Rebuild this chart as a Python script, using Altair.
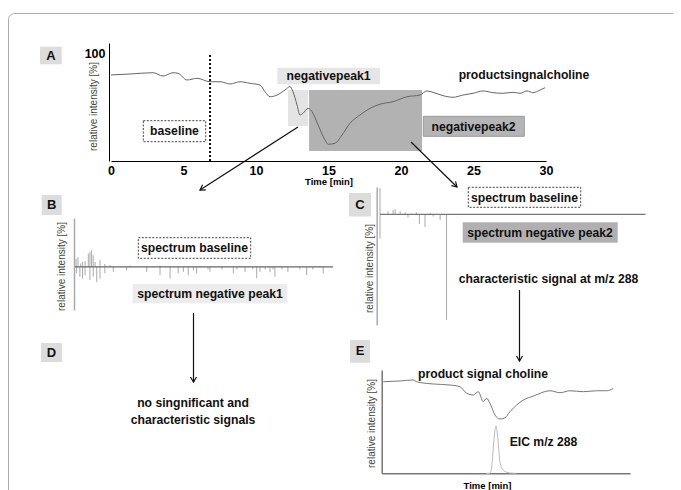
import altair as alt
import pandas as pd

FONT = "Liberation Sans"
W, H = 665, 482

# ---------------- Panel A: chromatogram ----------------
A_time = [0.0, 1.31, 2.90, 3.59, 4.28, 4.62, 5.24, 5.93, 6.83, 7.52, 8.21, 8.90, 9.59, 10.28,
          10.62, 10.97, 11.45, 12.00, 12.34, 12.55, 12.83, 13.03, 13.24, 13.59, 13.93, 14.28,
          14.76, 14.97, 15.45, 15.93, 16.48, 17.17, 17.86, 18.55, 19.45, 20.41, 21.31, 21.79,
          22.21, 22.90, 23.59, 24.28, 24.97, 25.66, 26.34, 27.03, 27.72, 28.21, 28.69, 29.10,
          29.59, 29.93]
A_int = [80.2, 81.1, 82.3, 79.2, 82.3, 81.8, 75.5, 77.1, 73.9, 73.9, 71.8, 73.9, 72.4, 70.8,
         64.6, 59.9, 61.5, 66.2, 69.3, 64.6, 52.2, 42.9, 44.5, 49.1, 44.5, 33.6,
         19.6, 15.6, 16.5, 24.2, 35.1, 42.9, 49.1, 52.9, 55.3, 59.9, 61.5, 65.3,
         64.0, 60.9, 59.4, 61.5, 63.1, 65.3, 63.7, 63.1, 64.0, 63.1, 65.3, 63.7,
         66.2, 68.3]
A_ticks = [0, 5, 10, 15, 20, 25, 30]
peak1_t = [12.2, 13.6]
peak1_i = [32.6, 66.2]
peak2_t = [13.66, 21.45]
peak2_i = [9.3, 66.2]
baseline_marker_t = 6.83
baseline_marker_top = 98.8

# ---------------- Panel B: spectrum baseline (up) / negative peak1 (down) ----------------
B_mz = [54, 61, 71, 78, 87, 99, 105, 111, 117, 124, 142, 160, 179, 253, 363, 510, 658, 805, 952,
        56, 68, 78, 87, 105, 117, 130, 142, 160, 191, 240, 314, 363, 400, 430, 449, 467, 486,
        498, 540, 547, 591, 633, 646, 676, 705, 719, 731, 750, 768, 779, 786, 812, 834, 878,
        903, 926, 964]
B_int = [17, 20, 7, 10, 12, 27, 31, 34, 24, 10, 14, 6, 4, 3, 3, 2, 2, 2, 2,
         -13, -20, -24, -17, -27, -20, -31, -24, -13, -10, -7, -10, -17, -24, -13, -10, -17, -7,
         -13, -5, -10, -5, -13, -5, -10, -5, -23, -10, -5, -11, -5, -20, -5, -10, -5,
         -17, -5, -13]

# ---------------- Panel C: spectrum baseline (up) / negative peak2 (down) ----------------
C_mz = [50, 79, 97, 104, 122, 140, 180, 230, 50, 150, 191, 211, 240, 265, 288]
C_int = [25, 3, 4, 5, 3, 2, 2, 1.5, -23, -3, -9, -12, -2, -5.5, -100]

# ---------------- Panel E: product signal choline + EIC m/z 288 ----------------
E_time = [0.19, 2.21, 3.82, 4.23, 6.23, 8.25, 9.46, 10.27, 11.07, 11.67, 12.27, 12.68, 13.08,
          13.69, 14.29, 14.89, 15.49, 16.30, 17.11, 18.31, 20.33, 21.54, 22.75, 24.36, 25.97,
          27.18, 27.98]
E_int = [97.5, 98.3, 99.4, 97.5, 95.1, 94.0, 92.2, 85.2, 83.4, 86.9, 76.3, 79.8, 74.5,
         62.0, 57.8, 59.1, 65.5, 72.7, 78.0, 82.2, 87.9, 85.8, 87.9, 86.9, 87.9,
         87.9, 90.4]
EIC_time = [12.6, 13.08, 13.32, 13.56, 13.81, 14.05, 14.29, 14.65, 15.5, 16.2]
EIC_int = [0, 0, 8.8, 35.5, 50.4, 35.5, 12.0, 3.5, 0.3, 0]

# ---------------- layout (view pixels) ----------------
txt_x = [320.5, 516, 465.5, 166.5, 186.5, 202, 516.5, 532, 540.5, 185, 185, 475, 535.5]
txt_y = [68, 67, 118.5, 123, 240, 285.7, 189.5, 224.5, 271, 395, 412, 366.3, 433.7]
txt_s = ["negativepeak1", "productsingnalcholine", "negativepeak2", "baseline",
         "spectrum baseline", "spectrum negative peak1", "spectrum baseline",
         "spectrum negative peak2", "characteristic signal at m/z 288",
         "no singnificant and", "characteristic signals", "product signal choline",
         "EIC m/z 288"]

letters = ["A", "B", "C", "D", "E"]
let_x0 = [32, 33.7, 341, 33, 342]
let_x1 = [53.7, 53.7, 363, 54, 362]
let_y0 = [38.7, 187, 185, 335, 332]
let_y1 = [56.3, 207, 208.5, 354, 354.7]

arr_x0 = [290, 403, 185.5, 511.5]
arr_y0 = [119, 134, 305, 282]
arr_x1 = [192, 449, 185.5, 511.5]
arr_y1 = [182, 179, 374, 353]
arr_ang = [57.3, 314.4, 0, 0]

# ---------- Panel A group ----------
xsA = alt.Scale(domain=[0, 30], range=[103, 538], nice=False, zero=False)
ysA = alt.Scale(domain=[0, 110], range=[153, 35], nice=False, zero=False)
axAx = alt.Axis(orient="bottom", offset=153 - H, values=A_ticks, format="d", ticks=False,
                grid=False, domainColor="#000", domainWidth=1, labelFont=FONT,
                labelFontSize=12.5, labelFontWeight="bold", labelColor="#000", labelPadding=3,
                labelFlush=False, labelOverlap=False,
                title="Time [min]", titleFont=FONT, titleFontSize=9.5, titleFontWeight="bold",
                titleColor="#000", titleBaseline="middle", titleY=20.5)
axAy = alt.Axis(orient="left", offset=-101, values=[100], ticks=False, grid=False,
                domainColor="#000", domainWidth=1, labelFont=FONT, labelFontSize=12.5,
                labelFontWeight="bold", labelColor="#000", labelPadding=4,
                title="relative intensity [%]", titleFont=FONT, titleFontSize=10,
                titleFontWeight="normal", titleColor="#444", titleAngle=270, titleAlign="center",
                titleBaseline="middle", titleX=-15.7, titleY=98)

dfA = pd.DataFrame({"t": A_time, "I": A_int})
pk1 = alt.Chart(pd.DataFrame({"t": [peak1_t[0]], "t2": [peak1_t[1]], "I": [peak1_i[0]], "I2": [peak1_i[1]]})).mark_rect(color="#e4e4e4").encode(
    x=alt.X("t:Q", scale=xsA, axis=axAx), x2="t2:Q",
    y=alt.Y("I:Q", scale=ysA, axis=axAy), y2="I2:Q")
pk2 = alt.Chart(pd.DataFrame({"t": [peak2_t[0]], "t2": [peak2_t[1]], "I": [peak2_i[0]], "I2": [peak2_i[1]]})).mark_rect(color="#b2b2b2").encode(
    x=alt.X("t:Q", scale=xsA, axis=axAx), x2="t2:Q",
    y=alt.Y("I:Q", scale=ysA, axis=axAy), y2="I2:Q")
dotted = alt.Chart(pd.DataFrame({"t": [baseline_marker_t], "I": [0], "I2": [baseline_marker_top]})).mark_rule(
    color="#111", strokeWidth=2, strokeDash=[2, 2]).encode(
    x=alt.X("t:Q", scale=xsA, axis=axAx),
    y=alt.Y("I:Q", scale=ysA, axis=axAy), y2="I2:Q")
lineA = alt.Chart(dfA).mark_line(color="#666", strokeWidth=1, interpolate="monotone").encode(
    x=alt.X("t:Q", scale=xsA, axis=axAx),
    y=alt.Y("I:Q", scale=ysA, axis=axAy))
groupA = alt.layer(pk1, pk2, dotted, lineA)

# ---------- Panel B group ----------
xsB = alt.Scale(domain=[50, 1000], range=[67, 325], nice=False, zero=False)
ysB = alt.Scale(domain=[-88, 100], range=[302, 210], nice=False, zero=False)
axBy = alt.Axis(orient="left", offset=-66, ticks=False, labels=False, grid=False,
                domainColor="#aaa", domainWidth=1.5, title="relative intensity [%]",
                titleFont=FONT, titleFontSize=10, titleFontWeight="normal", titleColor="#444",
                titleAngle=270, titleAlign="center", titleBaseline="middle",
                titleX=-12.3, titleY=258)
dfB = pd.DataFrame({"mz": B_mz, "v": B_int, "z": [0] * len(B_mz)})
spB = alt.Chart(dfB).mark_rule(color="#aaa", strokeWidth=1).encode(
    x=alt.X("mz:Q", scale=xsB, axis=None),
    y=alt.Y("v:Q", scale=ysB, axis=axBy), y2="z:Q")
baseB = alt.Chart(pd.DataFrame({"mz": [50], "mz2": [1000], "v": [0]})).mark_rule(
    color="#666", strokeWidth=1.3).encode(
    x=alt.X("mz:Q", scale=xsB, axis=None), x2="mz2:Q",
    y=alt.Y("v:Q", scale=ysB, axis=axBy))
groupB = alt.layer(spB, baseB)

# ---------- Panel C group ----------
xsC = alt.Scale(domain=[50, 1000], range=[372, 637.6], nice=False, zero=False)
ysC = alt.Scale(domain=[-105, 26], range=[317, 179], nice=False, zero=False)
axCy = alt.Axis(orient="left", offset=-368.7, ticks=False, labels=False, grid=False,
                domainColor="#aaa", domainWidth=1.5, title="relative intensity [%]",
                titleFont=FONT, titleFontSize=10, titleFontWeight="normal", titleColor="#444",
                titleAngle=270, titleAlign="center", titleBaseline="middle",
                titleX=-7, titleY=260)
dfC = pd.DataFrame({"mz": C_mz, "v": C_int, "z": [0] * len(C_mz)})
spC = alt.Chart(dfC).mark_rule(color="#aaa", strokeWidth=1).encode(
    x=alt.X("mz:Q", scale=xsC, axis=None),
    y=alt.Y("v:Q", scale=ysC, axis=axCy), y2="z:Q")
baseC = alt.Chart(pd.DataFrame({"mz": [50], "mz2": [1000], "v": [0]})).mark_rule(
    color="#777", strokeWidth=1.3).encode(
    x=alt.X("mz:Q", scale=xsC, axis=None), x2="mz2:Q",
    y=alt.Y("v:Q", scale=ysC, axis=axCy))
groupC = alt.layer(spC, baseC)

# ---------- Panel E group ----------
xsE = alt.Scale(domain=[0, 30], range=[373.7, 622], nice=False, zero=False)
ysE = alt.Scale(domain=[0, 110], range=[465.3, 362], nice=False, zero=False)
axEx = alt.Axis(orient="bottom", offset=465.3 - H, ticks=False, labels=False, grid=False,
                domainColor="#777", domainWidth=1.5, title="Time [min]", titleFont=FONT,
                titleFontSize=9.5, titleFontWeight="bold", titleColor="#000",
                titleBaseline="middle", titleX=479, titleY=12.4)
axEy = alt.Axis(orient="left", offset=-373.7, ticks=False, labels=False, grid=False,
                domainColor="#777", domainWidth=1.5, title="relative intensity [%]",
                titleFont=FONT, titleFontSize=10, titleFontWeight="normal", titleColor="#444",
                titleAngle=270, titleAlign="center", titleBaseline="middle",
                titleX=-10, titleY=415)
lineE = alt.Chart(pd.DataFrame({"t": E_time, "I": E_int})).mark_line(
    color="#777", strokeWidth=1, interpolate="monotone").encode(
    x=alt.X("t:Q", scale=xsE, axis=axEx), y=alt.Y("I:Q", scale=ysE, axis=axEy))
eic = alt.Chart(pd.DataFrame({"t": EIC_time, "I": EIC_int})).mark_line(
    color="#bbb", strokeWidth=1, interpolate="monotone").encode(
    x=alt.X("t:Q", scale=xsE, axis=axEx), y=alt.Y("I:Q", scale=ysE, axis=axEy))
groupE = alt.layer(eic, lineE)

# ---------- annotations ----------
one = pd.DataFrame({"k": [0]})
border = alt.Chart(one).mark_rect(fillOpacity=0, stroke="#aaa", strokeWidth=1, cornerRadius=6).encode(
    x=alt.value(0.5), x2=alt.value(720), y=alt.value(5.5), y2=alt.value(560))


def box(x0, y0, x1, y1, **style):
    return alt.Chart(pd.DataFrame({"x0": [x0], "y0": [y0], "x1": [x1], "y1": [y1]})).mark_rect(**style).encode(
        x=alt.X("x0:Q", scale=None, axis=None), x2="x1:Q",
        y=alt.Y("y0:Q", scale=None, axis=None), y2="y1:Q")


dash = dict(fill="white", stroke="#444", strokeWidth=1, strokeDash=[2, 1.5])
boxes = [
    box(269.3, 59.7, 372, 76.3, fill="#e6e6e6"),
    box(415.3, 108.3, 516.3, 128.3, fill="#b5b5b5", stroke="#9a9a9a", strokeWidth=1),
    box(135.3, 112.7, 197.7, 133.7, **dash),
    box(130.3, 229.7, 242.7, 250.3, **dash),
    box(124.7, 276, 279.3, 295.3, fill="#ececec"),
    box(460.3, 179.3, 572.7, 199.3, **dash),
    box(454.7, 214.3, 609.7, 234.7, fill="#b0b0b0"),
]

letdf = pd.DataFrame({"x0": let_x0, "x1": let_x1, "y0": let_y0, "y1": let_y1, "s": letters})
letdf["cx"] = (letdf.x0 + letdf.x1) / 2
letdf["cy"] = (letdf.y0 + letdf.y1) / 2
letbox = alt.Chart(letdf).mark_rect(fill="#dcdcdc").encode(
    x=alt.X("x0:Q", scale=None, axis=None), x2="x1:Q",
    y=alt.Y("y0:Q", scale=None, axis=None), y2="y1:Q")
lettxt = alt.Chart(letdf).mark_text(font=FONT, fontSize=13, fontWeight="bold", color="#111",
                                    align="center", baseline="middle").encode(
    x=alt.X("cx:Q", scale=None, axis=None), y=alt.Y("cy:Q", scale=None, axis=None), text="s:N")

arrdf = pd.DataFrame({"x0": arr_x0, "y0": arr_y0, "x1": arr_x1, "y1": arr_y1, "a": arr_ang})
arrows = alt.Chart(arrdf).mark_rule(color="#111", strokeWidth=1.2).encode(
    x=alt.X("x0:Q", scale=None, axis=None), x2="x1:Q",
    y=alt.Y("y0:Q", scale=None, axis=None), y2="y1:Q")
heads = alt.Chart(arrdf).mark_point(shape="M -0.6 -1 L 0 0 L 0.6 -1", filled=False, stroke="#111",
                                    strokeWidth=1.2, size=100, opacity=1).encode(
    x=alt.X("x1:Q", scale=None, axis=None), y=alt.Y("y1:Q", scale=None, axis=None),
    angle=alt.Angle("a:Q", scale=None))

txtdf = pd.DataFrame({"x": txt_x, "y": txt_y, "s": txt_s})
texts = alt.Chart(txtdf).mark_text(font=FONT, fontSize=12.2, fontWeight="bold", color="#111",
                                   align="center", baseline="middle").encode(
    x=alt.X("x:Q", scale=None, axis=None), y=alt.Y("y:Q", scale=None, axis=None), text="s:N")

chart = alt.layer(
    border, groupA, groupB, groupC, groupE, *boxes, letbox, lettxt, arrows, heads, texts
).resolve_scale(x="independent", y="independent").properties(
    width=W, height=H, padding=0, autosize=alt.AutoSizeParams(type="none")
).configure_view(stroke=None)

chart.save("out.html", embed_options={"renderer": "svg", "actions": False})
